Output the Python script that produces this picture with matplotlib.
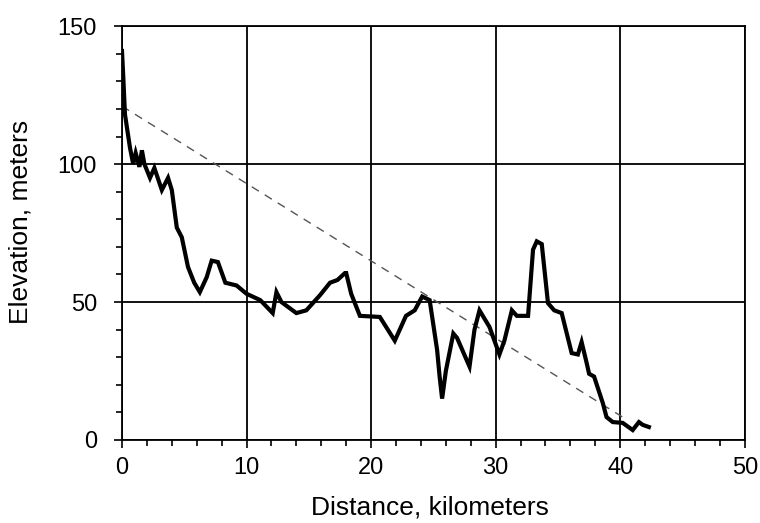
import matplotlib.pyplot as plt
from matplotlib.ticker import MultipleLocator

plt.rcParams['font.family'] = ['Liberation Sans', 'DejaVu Sans']

# elevation profile (km, m)
dist_km = [0.0, 0.1, 0.24, 0.64, 0.9, 1.1, 1.4, 1.6, 1.8, 2.25, 2.6, 3.2, 3.7, 4.0,
           4.4, 4.8, 5.3, 5.8, 6.25, 6.8, 7.2, 7.7, 8.3, 9.2, 10.0, 11.1, 12.1,
           12.4, 12.8, 14.0, 14.8, 15.9, 16.7, 17.3, 17.9, 18.0, 18.4, 19.1,
           20.7, 21.9, 22.8, 23.5, 24.1, 24.7, 25.3, 25.5, 25.7, 26.0, 26.6,
           26.9, 27.9, 28.3, 28.7, 29.5, 30.3, 30.7, 31.3, 31.7, 32.6, 33.0,
           33.3, 33.7, 34.2, 34.7, 35.3, 36.1, 36.6, 36.9, 37.3, 37.5, 37.9,
           38.6, 38.9, 39.4, 40.2, 41.0, 41.5, 41.8, 42.3]
elev_m = [141, 132, 118, 106, 100, 104, 99, 105, 100, 95, 98.6, 90.6, 95, 90.6,
          77, 73.5, 62.7, 57, 53.6, 59, 65, 64.5, 57, 56, 53, 50.7, 46,
          53.6, 50, 46, 47, 52.5, 57, 58, 60.5, 60.5, 53, 45,
          44.6, 36, 45, 47, 52, 50.7, 32.6, 23, 15, 25, 38.6,
          37, 26.6, 40, 47, 41, 31, 36, 47, 45, 45, 69,
          72, 71, 49.6, 47, 46, 31.5, 31, 35.5, 28, 24, 23,
          13.4, 8.3, 6.5, 6.2, 3.6, 6.5, 5.5, 4.7]

# straight trend line endpoints
trend_km = [0.0, 40.3]
trend_m = [121, 8]

fig, ax = plt.subplots(figsize=(7.6, 5.23), dpi=100)
fig.subplots_adjust(left=0.1605, right=0.98, bottom=0.1587, top=0.95)

ax.plot(trend_km, trend_m, color='#555555', lw=1.0, dashes=(6, 5))
ax.plot(dist_km, elev_m, color='black', lw=3.0, solid_joinstyle='miter')

ax.set_xlim(0, 50)
ax.set_ylim(0, 150)
ax.xaxis.set_major_locator(MultipleLocator(10))
ax.xaxis.set_minor_locator(MultipleLocator(2))
ax.yaxis.set_major_locator(MultipleLocator(50))
ax.yaxis.set_minor_locator(MultipleLocator(10))
ax.tick_params(which='both', direction='out', width=1.2, colors='black', labelsize=17)
ax.tick_params(which='major', length=6)
ax.tick_params(which='minor', length=4)
ax.tick_params(axis='y', which='major', pad=12)
ax.tick_params(axis='x', which='major', pad=6)
ax.grid(True, which='major', color='black', lw=1.3)

for sp in ax.spines.values():
    sp.set_linewidth(1.3)

ax.set_xlabel('Distance, kilometers', fontsize=19)
ax.set_ylabel('Elevation, meters', fontsize=19)
ax.xaxis.set_label_coords(0.494, -0.135)
ax.yaxis.set_label_coords(-0.143, 0.527)

fig.savefig('out.png', dpi=100)
